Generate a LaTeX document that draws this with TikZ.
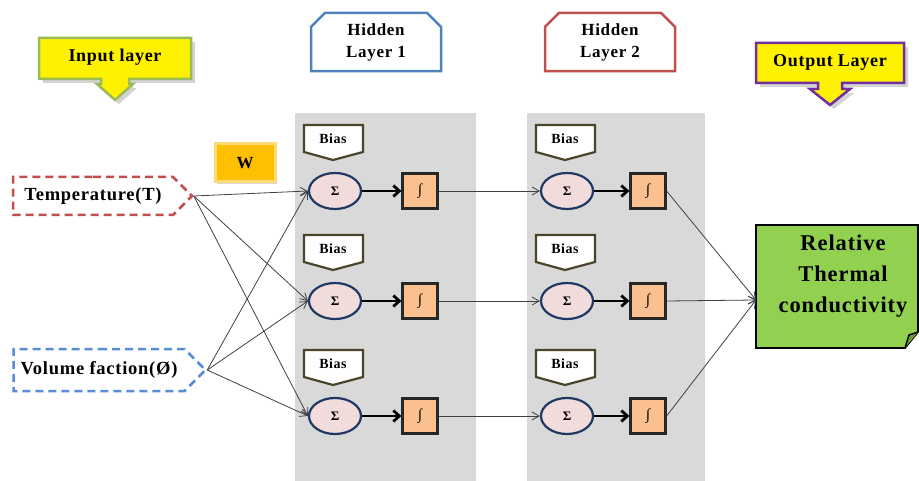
\documentclass[tikz,border=0pt]{standalone}
\usepackage{fontspec}
\setmainfont{Liberation Serif}[LetterSpace=4]
\usetikzlibrary{shapes.geometric,shapes.symbols,shapes.misc,arrows.meta,shadows}

\definecolor{panelgray}{HTML}{D9D9D9}
\definecolor{inborder}{HTML}{9BBB59}
\definecolor{outborder}{HTML}{7030A0}
\definecolor{hidblue}{HTML}{4F81BD}
\definecolor{hidred}{HTML}{C0504D}
\definecolor{volblue}{HTML}{558ED5}
\definecolor{wgold}{HTML}{FFC000}
\definecolor{biasolive}{HTML}{4A452A}
\definecolor{sumpink}{HTML}{F2DCDB}
\definecolor{sumnavy}{HTML}{1F3864}
\definecolor{actpeach}{HTML}{FAC090}
\definecolor{outgreen}{HTML}{92D050}
\definecolor{foldgreen}{HTML}{6FA32E}
\pgfdeclareverticalshading{hidshade}{100bp}{color(0bp)=(white); color(78bp)=(white); color(100bp)=(black!35)}

\begin{document}
\begin{tikzpicture}[x=1pt,y=-1pt,
  lbl/.style={font=\fontsize{18}{20}\selectfont\bfseries},
  calloutline/.style={line width=2.5pt,fill=yellow,drop shadow={opacity=0.35,shadow xshift=4pt,shadow yshift=-4pt}},
  hidbox/.style={chamfered rectangle,chamfered rectangle corners={north west,north east},
    chamfered rectangle xsep=7pt,chamfered rectangle ysep=7pt,line width=2.5pt,
    shading=hidshade,minimum width=130pt,minimum height=56pt,align=center,
    font=\fontsize{17}{22}\selectfont\bfseries},
  inbox/.style={signal,signal to=east,signal from=nowhere,signal pointer angle=90,dashed,
    dash pattern=on 8pt off 5pt,line width=2.5pt,fill=white,
    font=\fontsize{18.5}{20}\selectfont\bfseries},
  biasbox/.style={draw=biasolive,line width=2.2pt,fill=white},
  sum/.style={ellipse,draw=sumnavy,line width=2.2pt,fill=sumpink,inner sep=0pt,
    minimum width=52pt,minimum height=36pt,font=\fontsize{13}{13}\selectfont\bfseries},
  act/.style={rectangle,draw=black!85,line width=2.2pt,fill=actpeach,inner sep=0pt,
    minimum size=35pt,font=\fontsize{15}{15}\selectfont\bfseries\itshape},
  wire/.style={draw=black!75,line width=0.8pt,-{Straight Barb[length=7pt,width=8pt]}},
  fatarrow/.style={line width=2.8pt,-{Straight Barb[length=6pt,width=11pt]}}]
\useasboundingbox (0,0) rectangle (919,481);

% gray panels of the hidden layers
\fill [panelgray] (295,113) rectangle (476,481);
\fill [panelgray] (527,113) rectangle (705,481);

% layer titles
\draw [calloutline,draw=inborder] (39,38) -- (191,38) -- (191,79) -- (129,79) -- (129,84) -- (133,84)
  -- (115,100) -- (97,84) -- (101,84) -- (101,79) -- (39,79) -- cycle;
\node [lbl] (inl) at (115,57) {Input layer};
\draw [calloutline,draw=outborder] (756,43) -- (904,43) -- (904,83) -- (842,83) -- (842,89) -- (850,89)
  -- (830,105) -- (810,89) -- (818,89) -- (818,83) -- (756,83) -- cycle;
\node [lbl] (outl) at (830,62) {Output Layer};
\node [hidbox,draw=hidblue] (hid1) at (376,42) {Hidden\\Layer 1};
\node [hidbox,draw=hidred] (hid2) at (610,42) {Hidden\\Layer 2};

% inputs and weight
\node [inbox,draw=hidred,minimum width=179pt,minimum height=38pt] (temp) at (93,196) {Temperature(T)};
\node [inbox,draw=volblue,minimum width=192pt,minimum height=42pt] (vol) at (99,370) {Volume faction(Ø)};
\node [fill=wgold,draw=wgold!55!white,line width=3pt,minimum width=60pt,minimum height=38pt,
  drop shadow={opacity=0.3},font=\fontsize{17}{17}\selectfont\bfseries] (w) at (245,163) {W};

% neurons
\foreach \px/\ax/\l in {335/420/1, 567/648/2} {
  \foreach \py/\r in {191/1, 301/2, 416/3} {
    \draw [biasbox] (\px-31,\py-66) -- (\px+28,\py-66) -- (\px+28,\py-39) -- (\px-2,\py-31)
      -- (\px-31,\py-39) -- cycle;
    \node [font=\fontsize{14}{14}\selectfont\bfseries] (bias\l\r) at (\px-2,\py-52) {Bias};
    \node [sum] (sum\l\r) at (\px,\py) {Σ};
    \node [act] (act\l\r) at (\ax,\py) {∫};
    \draw [fatarrow] (sum\l\r) -- (act\l\r);
  }
}

% output
\filldraw [fill=outgreen,draw=black,line width=1.8pt] (756,225) -- (918,225) -- (918,332)
  -- (905,348) -- (756,348) -- cycle;
\filldraw [fill=foldgreen,draw=black,line width=1.5pt] (918,332) -- (909,335) -- (905,348);
\node [align=center,font=\fontsize{22.5}{31}\selectfont\bfseries] (out) at (843,276)
  {Relative\\Thermal\\conductivity};
\coordinate (outin) at (756,300);

% connections
\foreach \r in {1,2,3} {
  \draw [wire] (temp.east) -- (sum1\r.west);
  \draw [wire] (vol.east) -- (sum1\r.west);
  \draw [wire] (act1\r.east) -- (sum2\r.west);
  \draw [wire] (act2\r.east) -- (outin);
}
\end{tikzpicture}
\end{document}
